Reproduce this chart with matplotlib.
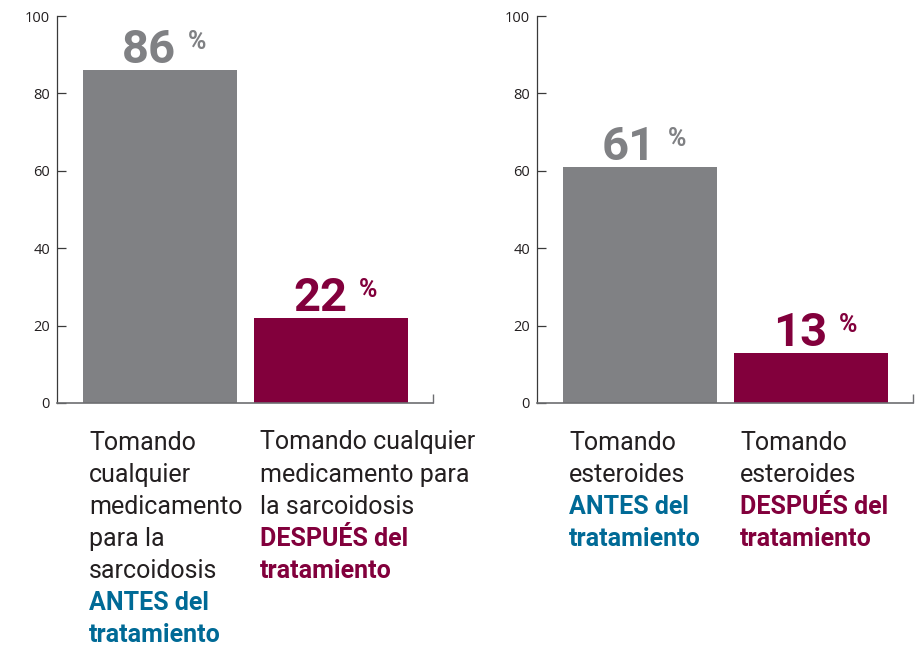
import matplotlib
matplotlib.use("Agg")
import matplotlib.pyplot as plt

# ---- data ----
positions = [0, 1]
values_left = [86, 22]
values_right = [61, 13]
labels_left_regular = [["Tomando", "cualquier", "medicamento", "para la", "sarcoidosis"],
                       ["Tomando cualquier", "medicamento para", "la sarcoidosis"]]
labels_left_bold = [["ANTES del", "tratamiento"], ["DESPUÉS del", "tratamiento"]]
labels_right_regular = [["Tomando", "esteroides"], ["Tomando", "esteroides"]]
labels_right_bold = [["ANTES del", "tratamiento"], ["DESPUÉS del", "tratamiento"]]
yticks = [0, 20, 40, 60, 80, 100]

GREY = "#808184"
MAROON = "#82003c"
BLUE = "#006a96"
TEXT = "#231f20"
bar_colors = [GREY, MAROON]
bold_colors = [BLUE, MAROON]

PT = 0.72  # px -> pt at dpi 100

fig = plt.figure(figsize=(9.18, 6.45), dpi=100)
W, H = 918, 645
axes_px = [(57, 242, 376, 387), (537, 242, 376, 387)]

panels = [(values_left, labels_left_regular, labels_left_bold),
          (values_right, labels_right_regular, labels_right_bold)]

bar_w = 0.9
for (l, b, w, h), (vals, regs, bolds) in zip(axes_px, panels):
    ax = fig.add_axes([l / W, b / H, w / W, h / H])
    ax.bar(positions, vals, width=bar_w, color=bar_colors)
    ax.set_ylim(0, 100)
    ax.set_xlim(-0.602, 1.596)
    ax.set_yticks(yticks)
    ax.set_yticklabels([str(t) for t in yticks], fontfamily="Open Sans",
                       fontsize=10.5, color=TEXT)
    ax.tick_params(axis="y", direction="in", length=6.5, width=0.9,
                   color="#3a3a3a", pad=5)
    ax.set_xticks([1.596])
    ax.set_xticklabels([])
    ax.tick_params(axis="x", direction="in", length=6.5, width=1.0,
                   color="#6d6e71")
    for s in ("top", "right"):
        ax.spines[s].set_visible(False)
    ax.spines["left"].set_color("#3a3a3a")
    ax.spines["left"].set_linewidth(0.9)
    ax.spines["bottom"].set_color("#6d6e71")
    ax.spines["bottom"].set_linewidth(1.2)
    ax.patch.set_alpha(0)

    for i, (x, v) in enumerate(zip(positions, vals)):
        c = bar_colors[i]
        ax.annotate(str(v), xy=(x, v), xytext=(16 * PT, 7 * PT),
                    textcoords="offset points", ha="right", va="baseline",
                    fontfamily="Roboto", fontweight="bold", fontsize=34,
                    color=c, annotation_clip=False)
        ax.annotate("%", xy=(x, v), xytext=(28 * PT, 21 * PT),
                    textcoords="offset points", ha="left", va="baseline",
                    fontfamily="Roboto", fontweight="bold", fontsize=18,
                    color=c, annotation_clip=False)
        lines = [(t, TEXT, "normal") for t in regs[i]] + \
                [(t, bold_colors[i], "bold") for t in bolds[i]]
        for k, (t, col, wt) in enumerate(lines):
            ax.annotate(t, xy=(x - bar_w / 2, 0),
                        xycoords=("data", "axes fraction"),
                        xytext=(6 * PT, -(46.5 + 32.1 * k) * PT),
                        textcoords="offset points", ha="left", va="baseline",
                        fontfamily="Roboto", fontweight=wt, fontsize=18,
                        color=col, annotation_clip=False)

fig.savefig("out.png", dpi=100)
